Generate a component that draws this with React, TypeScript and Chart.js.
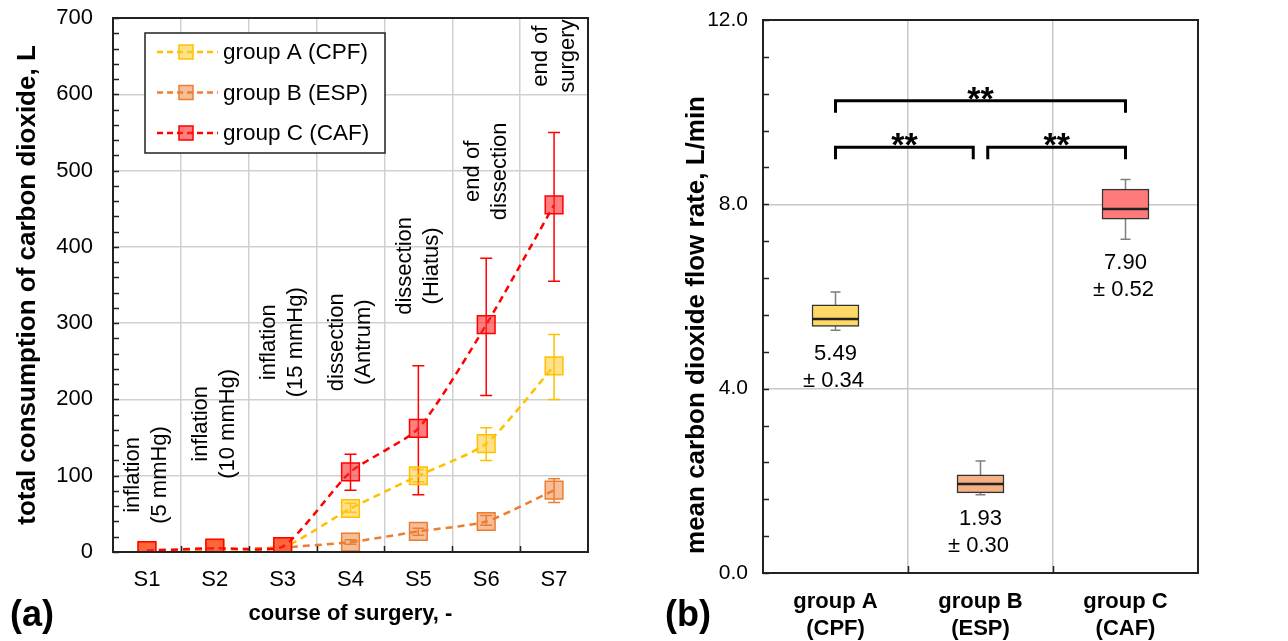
import React, { useEffect, useRef } from "react";
import { Chart, registerables } from "chart.js";
Chart.register(...registerables);

const FONT = '"Liberation Sans", Arial, Helvetica, sans-serif';

// ---------- (a) cumulative consumption ----------
const stages = ["S1", "S2", "S3", "S4", "S5", "S6", "S7"];
const groupA = [1, 4, 6, 57, 100, 142, 244];
const groupALow = [1, 4, 6, 52, 92, 120, 200];
const groupAHigh = [1, 4, 6, 64, 108, 163, 285];
const groupB = [1, 3, 6, 13, 27, 40, 81];
const groupBLow = [1, 3, 6, 10, 22, 35, 65];
const groupBHigh = [1, 3, 6, 16, 31, 48, 96];
const groupC = [2, 5, 7, 105, 162, 298, 455];
const groupCLow = [2, 5, 7, 81, 75, 205, 355];
const groupCHigh = [2, 5, 7, 128, 244, 385, 550];
const stageNotes = [
  ["inflation", "(5 mmHg)"],
  ["inflation", "(10 mmHg)"],
  ["inflation", "(15 mmHg)"],
  ["dissection", "(Antrum)"],
  ["dissection", "(Hiatus)"],
  ["end of", "dissection"],
  ["end of", "surgery"],
];
const stageNoteLevel = [101, 168, 275, 275, 375, 499, 650];

// ---------- (b) mean flow rate box plot ----------
const boxGroups = [["group A", "(CPF)"], ["group B", "(ESP)"], ["group C", "(CAF)"]];
const boxMin = [5.27, 1.7, 7.24];
const boxQ1 = [5.35, 1.74, 7.68];
const boxMedian = [5.51, 1.93, 7.9];
const boxQ3 = [5.82, 2.13, 8.33];
const boxMax = [6.1, 2.43, 8.54];
const meanText = ["5.49", "1.93", "7.90"];
const sdText = ["± 0.34", "± 0.30", "± 0.52"];
const sigFrom = [0, 0, 1.05];
const sigTo = [2, 0.95, 2];
const sigLevel = [10.25, 9.24, 9.24];
const sigMark = ["**", "**", "**"];

const series = [
  { label: "group A (CPF)", data: groupA, low: groupALow, high: groupAHigh, line: "#FFC000", fill: "rgba(255,200,40,0.55)", order: 1 },
  { label: "group B (ESP)", data: groupB, low: groupBLow, high: groupBHigh, line: "#ED7D31", fill: "rgba(237,125,49,0.5)", order: 2 },
  { label: "group C (CAF)", data: groupC, low: groupCLow, high: groupCHigh, line: "#FF0000", fill: "rgba(255,40,40,0.6)", order: 0 },
];
const boxFill = ["#FFD966", "#F4B183", "#FF7B7B"];

const W_LEFT = 650;
const W_RIGHT = 638;
const H = 641;

function LeftChart() {
  const ref = useRef<HTMLCanvasElement>(null);
  useEffect(() => {
    const canvas = ref.current!;
    const decor = {
      id: "leftDecor",
      beforeDatasetsDraw(chart: any) {
        const { ctx, scales } = chart;
        const x = scales.x, y = scales.y;
        ctx.save();
        series.forEach((s) => {
          ctx.strokeStyle = s.line;
          ctx.lineWidth = 1.5;
          s.low.forEach((lo, i) => {
            const hi = s.high[i];
            if (hi - lo < 1e-9) return;
            const px = x.getPixelForValue(i);
            const y1 = y.getPixelForValue(lo);
            const y2 = y.getPixelForValue(hi);
            ctx.beginPath();
            ctx.moveTo(px, y1); ctx.lineTo(px, y2);
            ctx.moveTo(px - 6, y1); ctx.lineTo(px + 6, y1);
            ctx.moveTo(px - 6, y2); ctx.lineTo(px + 6, y2);
            ctx.stroke();
          });
        });
        ctx.restore();
      },
      afterDraw(chart: any) {
        const { ctx, chartArea: ca, scales } = chart;
        const x = scales.x, y = scales.y;
        ctx.save();
        // minor ticks
        ctx.strokeStyle = "#222";
        ctx.lineWidth = 1.5;
        ctx.beginPath();
        for (let v = 0; v <= 700; v += 20) {
          const py = Math.round(y.getPixelForValue(v)) + 0.5;
          ctx.moveTo(ca.left, py); ctx.lineTo(ca.left + 6, py);
        }
        for (let i = 1; i < stages.length; i++) {
          const px = Math.round(x.getPixelForValue(i - 0.5)) + 0.5;
          ctx.moveTo(px, ca.bottom); ctx.lineTo(px, ca.bottom - 6);
        }
        ctx.stroke();
        // border
        ctx.lineWidth = 2;
        ctx.strokeRect(ca.left, ca.top, ca.right - ca.left, ca.bottom - ca.top);
        // stage annotations
        ctx.fillStyle = "#000";
        ctx.font = `22px ${FONT}`;
        ctx.textAlign = "center";
        ctx.textBaseline = "middle";
        stageNotes.forEach((lines, i) => {
          const cx = x.getPixelForValue(i);
          const cy = y.getPixelForValue(stageNoteLevel[i]);
          ctx.save();
          ctx.translate(cx, cy);
          ctx.rotate(-Math.PI / 2);
          lines.forEach((t, k) => {
            ctx.fillText(t, 0, (k - (lines.length - 1) / 2) * 27);
          });
          ctx.restore();
        });
        // legend
        const lx = 145, ly = 33, lw = 240, lh = 120;
        ctx.fillStyle = "#fff";
        ctx.fillRect(lx, ly, lw, lh);
        ctx.strokeStyle = "#222";
        ctx.lineWidth = 1.5;
        ctx.strokeRect(lx, ly, lw, lh);
        chart.data.datasets.forEach((ds: any, i: number) => {
          const cy = ly + 19 + i * 40.5;
          ctx.strokeStyle = ds.borderColor;
          ctx.lineWidth = 2.5;
          ctx.setLineDash([6, 4]);
          ctx.beginPath();
          ctx.moveTo(157, cy); ctx.lineTo(218, cy);
          ctx.stroke();
          ctx.setLineDash([]);
          ctx.fillStyle = ds.pointBackgroundColor;
          ctx.fillRect(179, cy - 7, 14, 14);
          ctx.lineWidth = 1.5;
          ctx.strokeRect(179, cy - 7, 14, 14);
          ctx.fillStyle = "#000";
          ctx.font = `22.5px ${FONT}`;
          ctx.textAlign = "left";
          ctx.textBaseline = "middle";
          ctx.fillText(ds.label, 223, cy + 1);
        });
        ctx.restore();
      },
    };
    const chart = new Chart(canvas, {
      type: "line",
      data: {
        labels: stages,
        datasets: series.map((s) => ({
          label: s.label,
          data: s.data,
          borderColor: s.line,
          borderWidth: 2.5,
          borderDash: [7, 5],
          tension: 0.2,
          pointStyle: "rect",
          pointRadius: 12.5,
          pointBackgroundColor: s.fill,
          pointBorderColor: s.line,
          pointBorderWidth: 1.5,
          order: s.order,
          fill: false,
        })),
      },
      options: {
        responsive: false,
        maintainAspectRatio: false,
        animation: false,
        layout: { padding: { left: 0, right: W_LEFT - 588, top: 18, bottom: 0 } },
        plugins: { legend: { display: false }, tooltip: { enabled: false } },
        scales: {
          x: {
            type: "category",
            offset: true,
            grid: { offset: true, color: "#d0d0d0", lineWidth: 1.5, drawTicks: false },
            border: { display: false },
            ticks: { color: "#000", font: { family: FONT, size: 22 }, padding: 15 },
            title: {
              display: true,
              text: "course of surgery, -",
              color: "#000",
              font: { family: FONT, size: 22, weight: "bold" },
              padding: { top: 0, bottom: 14 },
            },
            afterFit(scale: any) {
              scale.height = H - 552;
              scale.paddingLeft = 0;
              scale.paddingRight = 0;
            },
          },
          y: {
            min: 0,
            max: 700,
            ticks: { stepSize: 100, color: "#000", font: { family: FONT, size: 22 }, padding: 20 },
            grid: { color: "#d0d0d0", lineWidth: 1.5, drawTicks: false },
            border: { display: false },
            title: {
              display: true,
              text: "total consumption of carbon dioxide, L",
              color: "#000",
              font: { family: FONT, size: 26, weight: "bold" },
              padding: { top: 12, bottom: 0 },
            },
            afterFit(scale: any) {
              scale.width = 113;
              scale.paddingTop = 0;
              scale.paddingBottom = 0;
            },
          },
        },
      } as any,
      plugins: [decor],
    });
    return () => chart.destroy();
  }, []);
  return <canvas ref={ref} width={W_LEFT} height={H} style={{ position: "absolute", left: 0, top: 0 }} />;
}

function RightChart() {
  const ref = useRef<HTMLCanvasElement>(null);
  useEffect(() => {
    const canvas = ref.current!;
    const decor = {
      id: "rightDecor",
      beforeDatasetsDraw(chart: any) {
        const { ctx, scales } = chart;
        const x = scales.x, y = scales.y;
        ctx.save();
        ctx.strokeStyle = "#7f7f7f";
        ctx.lineWidth = 1.5;
        boxMin.forEach((mn, i) => {
          const px = x.getPixelForValue(i);
          const yMin = y.getPixelForValue(mn);
          const yMax = y.getPixelForValue(boxMax[i]);
          ctx.beginPath();
          ctx.moveTo(px, yMin); ctx.lineTo(px, yMax);
          ctx.moveTo(px - 5, yMin); ctx.lineTo(px + 5, yMin);
          ctx.moveTo(px - 5, yMax); ctx.lineTo(px + 5, yMax);
          ctx.stroke();
        });
        ctx.restore();
      },
      afterDatasetsDraw(chart: any) {
        const { ctx, scales } = chart;
        const x = scales.x, y = scales.y;
        const meta = chart.getDatasetMeta(0);
        ctx.save();
        // medians
        ctx.strokeStyle = "#222";
        ctx.lineWidth = 2.5;
        boxMedian.forEach((m, i) => {
          const bar = meta.data[i];
          const half = bar.width / 2;
          const py = y.getPixelForValue(m);
          ctx.beginPath();
          ctx.moveTo(bar.x - half, py); ctx.lineTo(bar.x + half, py);
          ctx.stroke();
        });
        // mean ± sd labels
        ctx.fillStyle = "#000";
        ctx.font = `22px ${FONT}`;
        ctx.textAlign = "center";
        ctx.textBaseline = "middle";
        meanText.forEach((t, i) => {
          const px = x.getPixelForValue(i);
          const py = y.getPixelForValue(boxMin[i]) + 24;
          ctx.fillText(t, px, py);
          ctx.fillText(sdText[i], px - 2, py + 27);
        });
        ctx.restore();
      },
      afterDraw(chart: any) {
        const { ctx, chartArea: ca, scales } = chart;
        const x = scales.x, y = scales.y;
        ctx.save();
        ctx.strokeStyle = "#222";
        ctx.lineWidth = 1.5;
        ctx.beginPath();
        for (let k = 0; k <= 15; k++) {
          const py = Math.round(y.getPixelForValue(k * 0.8)) + 0.5;
          ctx.moveTo(ca.left, py); ctx.lineTo(ca.left + 6, py);
        }
        for (let i = 1; i < boxGroups.length; i++) {
          const px = Math.round(x.getPixelForValue(i - 0.5)) + 0.5;
          ctx.moveTo(px, ca.bottom); ctx.lineTo(px, ca.bottom - 7);
        }
        ctx.stroke();
        ctx.lineWidth = 2;
        ctx.strokeRect(ca.left, ca.top, ca.right - ca.left, ca.bottom - ca.top);
        // significance brackets
        ctx.strokeStyle = "#000";
        ctx.lineWidth = 3;
        ctx.fillStyle = "#000";
        ctx.font = `bold 34px ${FONT}`;
        ctx.textAlign = "center";
        ctx.textBaseline = "alphabetic";
        sigLevel.forEach((lvl, i) => {
          const x1 = x.getPixelForValue(sigFrom[i]);
          const x2 = x.getPixelForValue(sigTo[i]);
          const py = y.getPixelForValue(lvl);
          ctx.beginPath();
          ctx.moveTo(x1, py + 12); ctx.lineTo(x1, py); ctx.lineTo(x2, py); ctx.lineTo(x2, py + 12);
          ctx.stroke();
          ctx.fillText(sigMark[i], (x1 + x2) / 2, py + 9);
        });
        // y axis title
        ctx.save();
        ctx.translate(47, 325);
        ctx.rotate(-Math.PI / 2);
        ctx.font = `bold 26px ${FONT}`;
        ctx.textBaseline = "middle";
        ctx.fillText("mean carbon dioxide flow rate, L/min", 0, 0);
        ctx.restore();
        ctx.restore();
      },
    };
    const chart = new Chart(canvas, {
      type: "bar",
      data: {
        labels: boxGroups,
        datasets: [
          {
            label: "mean carbon dioxide flow rate",
            data: boxQ1.map((q, i) => [q, boxQ3[i]]),
            backgroundColor: boxFill,
            borderColor: "#333",
            borderWidth: 1.5,
            borderSkipped: false,
            barThickness: 47,
          },
        ],
      },
      options: {
        responsive: false,
        maintainAspectRatio: false,
        animation: false,
        layout: { padding: { left: 0, right: W_RIGHT - 548, top: 20, bottom: 0 } },
        plugins: { legend: { display: false }, tooltip: { enabled: false } },
        scales: {
          x: {
            type: "category",
            offset: true,
            grid: { offset: true, color: "#c8c8c8", lineWidth: 1.5, drawTicks: false },
            border: { display: false },
            ticks: { color: "#000", font: { family: FONT, size: 22, weight: "bold" }, padding: 16 },
            afterFit(scale: any) {
              scale.height = H - 573;
              scale.paddingLeft = 0;
              scale.paddingRight = 0;
            },
          },
          y: {
            min: 0,
            max: 12,
            ticks: {
              stepSize: 4,
              color: "#000",
              font: { family: FONT, size: 21 },
              padding: 15,
              callback: (v: any) => Number(v).toFixed(1),
            },
            grid: { color: "#c8c8c8", lineWidth: 1.5, drawTicks: false },
            border: { display: false },
            afterFit(scale: any) {
              scale.width = 113;
              scale.paddingTop = 0;
              scale.paddingBottom = 0;
            },
          },
        },
      } as any,
      plugins: [decor],
    });
    return () => chart.destroy();
  }, []);
  return <canvas ref={ref} width={W_RIGHT} height={H} style={{ position: "absolute", left: W_LEFT, top: 0 }} />;
}

const panelLabel: React.CSSProperties = {
  position: "absolute",
  top: 596,
  fontFamily: FONT,
  fontWeight: "bold",
  fontSize: 36,
  lineHeight: "36px",
  color: "#000",
};

export default function App() {
  return (
    <div style={{ position: "fixed", left: 0, top: 0, width: 1288, height: H, background: "#fff", overflow: "hidden" }}>
      <LeftChart />
      <RightChart />
      <div style={{ ...panelLabel, left: 10 }}>(a)</div>
      <div style={{ ...panelLabel, left: 665 }}>(b)</div>
    </div>
  );
}
